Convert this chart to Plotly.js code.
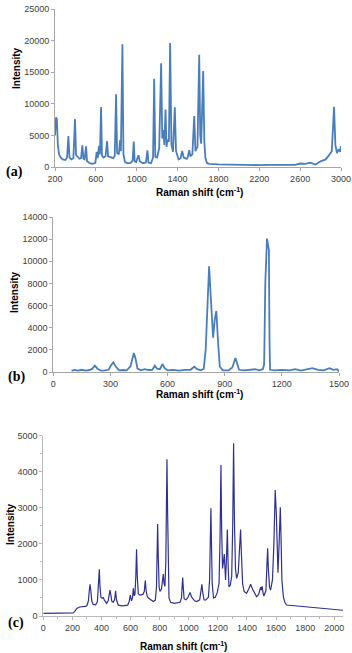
<!DOCTYPE html>
<html>
<head>
<meta charset="utf-8">
<script src="https://cdn.plot.ly/plotly-3.0.1.min.js"></script>
<style>html,body{margin:0;padding:0;background:#fff;}#chart{width:352px;height:653px;}</style>
</head>
<body>
<div id="chart"></div>
<script>
// Panel (a)
const shiftA = [200,210,218,228,240,255,275,300,318,331,342,360,380,396,406,420,440,455,468,478,490,504,514,540,570,595,608,618,631,640,651,660,675,695,710,720,745,770,785,798,808,825,837,845,860,870,885,910,940,960,971,980,995,1017,1030,1060,1090,1105,1115,1140,1160,1171,1182,1200,1220,1239,1250,1262,1270,1282,1292,1300,1315,1327,1340,1355,1373,1385,1410,1430,1445,1460,1490,1500,1514,1525,1545,1563,1575,1595,1612,1622,1631,1651,1662,1672,1687,1710,1800,1900,2000,2100,2200,2300,2400,2450,2500,2550,2600,2650,2700,2750,2800,2850,2880,2910,2932,2945,2960,2975,2990,3000];
const intA = [5000,7840,7600,3500,2000,1500,1200,1100,1500,4900,1500,1200,1400,7570,1900,1700,1300,1400,3440,1300,1200,3280,900,600,500,650,2380,1400,3330,2000,9480,1800,1500,1700,4080,1700,1600,1400,1800,11490,2200,2000,4240,2500,19440,2000,800,600,650,1000,4030,900,800,1850,900,600,700,2650,700,600,1500,13980,1600,1500,3000,16420,4500,5830,3500,9110,3200,4300,4000,19600,3500,2400,9430,2500,1200,1400,2540,1500,1300,1600,2650,1700,2000,8050,2500,3200,17740,5000,3700,15200,4000,1500,640,500,420,380,330,320,300,330,330,400,450,350,550,500,700,400,900,1200,1800,2500,9530,3500,2200,2800,2400,3300];
// Panel (b)
const shiftB = [96,110,130,150,170,190,205,218,232,250,270,290,303,315,328,345,365,385,405,415,423,432,442,460,480,500,520,533,545,560,573,585,600,630,660,690,720,740,755,775,790,800,810,818,826,839,848,856,864,874,890,920,940,950,956,965,975,1000,1030,1060,1080,1100,1107,1113,1122,1128,1132,1135,1138,1160,1200,1240,1270,1300,1330,1360,1390,1420,1450,1470,1490,1500];
const intB = [100,180,120,200,130,180,300,570,300,120,150,200,600,875,500,150,180,150,500,1300,1716,1200,300,150,250,180,200,570,300,250,720,350,150,200,130,200,200,480,250,150,300,2000,7000,9550,7000,3100,4800,5510,3000,500,150,150,400,1100,1270,800,200,150,200,250,150,250,700,8000,12050,11500,11000,3000,200,150,200,150,250,120,220,350,200,150,350,200,250,50];
// Panel (c)
const shiftC = [0,100,205,215,230,250,290,300,310,316,321,327,333,342,360,372,379,385,390,396,405,412,420,435,446,452,458,464,470,480,490,497,503,515,540,580,590,598,606,613,619,625,630,636,641,646,653,664,685,694,701,707,714,722,740,756,770,778,782,786,790,796,802,812,820,825,830,836,842,846,850,854,858,864,875,900,940,950,954,958,962,968,980,995,1008,1020,1040,1054,1075,1083,1090,1096,1105,1115,1135,1143,1148,1152,1156,1161,1170,1182,1195,1208,1215,1221,1226,1232,1238,1244,1249,1253,1259,1265,1270,1276,1285,1295,1302,1308,1314,1321,1329,1340,1348,1356,1362,1370,1380,1397,1412,1425,1438,1455,1466,1480,1488,1494,1498,1504,1510,1516,1530,1537,1542,1547,1555,1562,1575,1585,1594,1602,1609,1613,1619,1625,1629,1634,1640,1650,1660,1672,1718,1800,1900,2000,2060];
const intC = [74,78,85,120,210,250,265,290,420,700,878,700,420,320,310,400,800,1294,800,520,490,510,440,350,420,600,720,600,420,380,450,700,450,300,280,300,400,580,420,500,770,560,600,1100,1850,1100,620,580,600,680,980,700,550,500,450,400,440,800,1700,2550,1700,800,680,750,1000,1160,900,820,1500,3000,4344,3000,1200,500,380,350,380,500,800,1070,800,480,450,520,650,520,420,400,450,650,880,650,450,440,520,1000,2000,2985,2000,900,500,520,640,900,2200,4187,2400,1320,1500,1720,1300,1000,1600,2400,1500,810,850,1100,2500,4790,2600,1300,1045,1200,1800,2400,1700,900,680,630,750,880,750,600,535,600,720,800,720,820,650,555,700,1200,1876,1300,800,720,1000,2000,3494,2800,1500,1200,1800,2800,3013,2200,1000,535,380,305,287,250,230,190,160];

const W = 352, H = 653;
const fx = p => p / W, fy = p => 1 - p / H;
const tickFont = {family: 'Liberation Sans, Arial, sans-serif', size: 9, color: '#404040'};
const axisCommon = {
  showline: true, linecolor: '#a6a6a6', linewidth: 1,
  ticks: 'outside', ticklen: 3, tickcolor: '#a6a6a6',
  tickfont: tickFont, showgrid: false, zeroline: false, fixedrange: true, tickformat: 'd'
};

const traces = [
  {x: shiftA, y: intA, xaxis: 'x', yaxis: 'y', mode: 'lines', line: {color: '#4a7ebb', width: 1.8}},
  {x: shiftB, y: intB, xaxis: 'x2', yaxis: 'y2', mode: 'lines', line: {color: '#4a7ebb', width: 1.8}},
  {x: shiftC, y: intC, xaxis: 'x3', yaxis: 'y3', mode: 'lines', line: {color: '#2e3192', width: 1.2}}
];

const titleFont = {family: 'Liberation Sans, Arial, sans-serif', size: 10, color: '#000'};
const labelFont = {family: 'Liberation Serif, Times New Roman, serif', size: 14, color: '#000'};
const ann = (text, x, y, font, angle) => ({text, x: fx(x), y: fy(y), xref: 'paper', yref: 'paper', showarrow: false, font, textangle: angle || 0, xanchor: 'center', yanchor: 'middle'});

const layout = {
  width: W, height: H, margin: {l: 0, r: 0, t: 0, b: 0},
  paper_bgcolor: '#fff', plot_bgcolor: '#fff', showlegend: false,
  xaxis: Object.assign({}, axisCommon, {domain: [fx(55), fx(341)], range: [200, 3000], tickvals: [200,600,1000,1400,1800,2200,2600,3000], anchor: 'y'}),
  yaxis: Object.assign({}, axisCommon, {domain: [fy(167), fy(9)], range: [0, 25000], dtick: 5000, anchor: 'x'}),
  xaxis2: Object.assign({}, axisCommon, {domain: [fx(53.3), fx(339)], range: [0, 1500], dtick: 300, anchor: 'y2'}),
  yaxis2: Object.assign({}, axisCommon, {domain: [fy(372), fy(217)], range: [0, 14000], dtick: 2000, anchor: 'x2'}),
  xaxis3: Object.assign({}, axisCommon, {domain: [fx(43.3), fx(343)], range: [0, 2060], dtick: 200, anchor: 'y3', linecolor: '#b8b8b8', tickcolor: '#b8b8b8', minor: {dtick: 100, ticks: 'outside', ticklen: 2, tickcolor: '#b8b8b8'}}),
  yaxis3: Object.assign({}, axisCommon, {domain: [fy(616), fy(435.7)], range: [0, 5000], dtick: 1000, anchor: 'x3', linecolor: '#b8b8b8', tickcolor: '#b8b8b8', minor: {dtick: 500, ticks: 'outside', ticklen: 2, tickcolor: '#b8b8b8'}}),
  annotations: [
    ann('<b>Intensity</b>', 17, 68, titleFont, -90),
    ann('<b>Raman shift (cm<sup>-1</sup>)</b>', 199, 192, titleFont),
    ann('<b>(a)</b>', 14, 172, labelFont),
    ann('<b>Intensity</b>', 14, 292, titleFont, -90),
    ann('<b>Raman shift (cm<sup>-1</sup>)</b>', 199, 394, titleFont),
    ann('<b>(b)</b>', 16, 377, labelFont),
    ann('<b>Intensity</b>', 10, 524, titleFont, -90),
    ann('<b>Raman shift (cm<sup>-1</sup>)</b>', 183, 646, titleFont),
    ann('<b>(c)</b>', 16, 623, labelFont)
  ]
};

Plotly.newPlot('chart', traces, layout, {displayModeBar: false, staticPlot: true});
</script>
</body>
</html>
